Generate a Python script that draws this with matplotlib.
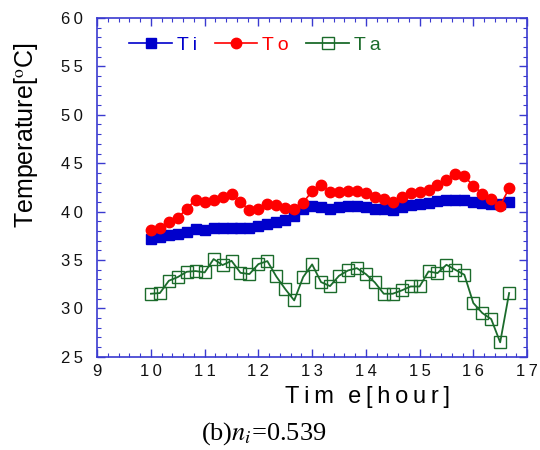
import numpy as np
import matplotlib
matplotlib.use('Agg')
import matplotlib.pyplot as plt
from matplotlib.ticker import MultipleLocator, FuncFormatter

plt.rcParams['font.family'] = ['Liberation Sans', 'DejaVu Sans']
plt.rcParams['mathtext.fontset'] = 'stix'

# sampling every 10 min, 10:00 - 16:40
time = [10 + k / 6 for k in range(41)]

t_i = [37.19, 37.37, 37.57, 37.71, 37.92, 38.19, 38.12, 38.26, 38.26, 38.33,
       38.26, 38.26, 38.53, 38.74, 38.95, 39.15, 39.50, 40.26, 40.60, 40.46,
       40.32, 40.50, 40.53, 40.57, 40.46, 40.32, 40.22, 40.19, 40.46, 40.64,
       40.77, 40.91, 41.05, 41.22, 41.25, 41.22, 40.98, 40.84, 40.81, 40.74,
       41.04]
t_o = [38.12, 38.26, 38.88, 39.33, 40.32, 41.22, 41.04, 41.22, 41.56, 41.77,
       40.96, 40.19, 40.29, 40.77, 40.70, 40.36, 40.29, 40.94, 42.11, 42.80,
       42.04, 42.02, 42.11, 42.18, 41.97, 41.56, 41.29, 41.01, 41.49, 41.97,
       42.04, 42.25, 42.70, 43.28, 43.87, 43.63, 42.69, 41.87, 41.29, 40.60,
       42.42]
t_a = [31.52, 31.59, 32.86, 33.24, 33.79, 33.86, 33.72, 35.10, 34.48, 34.92,
       33.68, 33.55, 34.58, 34.89, 33.30, 32.00, 30.83, 33.24, 34.55, 32.72,
       32.31, 33.37, 33.92, 34.16, 33.55, 32.69, 31.52, 31.52, 31.86, 32.27,
       32.27, 33.82, 33.65, 34.51, 33.99, 33.48, 30.56, 29.53, 28.90, 26.50,
       31.59]

c_i, c_o, c_a = '#0000cc', '#ff0000', '#1b6b2b'
axcol = '#3a3ad0'
sp = '\u2009'

fig = plt.figure(figsize=(5.4, 4.5), dpi=100)
ax = fig.add_axes([0.18, 0.207, 0.796, 0.753])

ax.plot(time, t_i, c=c_i, lw=1.2, marker='s', ms=6.5, mec=c_i, mfc=c_i, label='T' + sp + 'i')
ax.plot(time, t_o, c=c_o, lw=1.2, marker='o', ms=7.5, mec=c_o, mfc=c_o, label='T' + sp + 'o')
ax.plot(time, t_a, c=c_a, lw=1.3, marker='s', ms=8, mec=c_a, mfc='none', mew=1.0,
        label='T' + sp + 'a')

ax.set_xlim(9, 17)
ax.set_ylim(25, 60)
ax.xaxis.set_major_locator(MultipleLocator(1))
ax.xaxis.set_minor_locator(MultipleLocator(0.2))
ax.yaxis.set_major_locator(MultipleLocator(5))
ax.yaxis.set_minor_locator(MultipleLocator(1))
spaced = FuncFormatter(lambda v, p: sp.join('%d' % v))
ax.xaxis.set_major_formatter(spaced)
ax.yaxis.set_major_formatter(spaced)
ax.tick_params(which='both', direction='in', top=True, right=True, color=axcol,
               labelsize=12, labelcolor='#111111')
ax.tick_params(which='major', length=6, width=1.0)
ax.tick_params(axis='x', which='major', pad=5)
ax.tick_params(axis='y', which='major', pad=10)
ax.tick_params(which='minor', length=3, width=0.8)
for s in ax.spines.values():
    s.set_color(axcol)
    s.set_linewidth(1.2)

ax.set_xlabel(sp.join('Tim') + sp * 3 + sp.join('e[hour]'), fontsize=17)
ax.xaxis.set_label_coords(0.628, -0.085)
ax.set_ylabel(r'Temperature[$^{\rm o}$C]', fontsize=18)
ax.yaxis.set_label_coords(-0.133, 0.655)

leg = ax.legend(loc='center left', bbox_to_anchor=(0.075, 0.92), ncol=3, frameon=False,
                fontsize=14, handlelength=2.2, handletextpad=0.25, columnspacing=0.9,
                borderpad=0, borderaxespad=0)
for txt, col in zip(leg.get_texts(), [c_i, c_o, c_a]):
    txt.set_color(col)

fig.text(0.488, 0.037, r'(b)$n_i$=0.539', ha='center', va='center', fontsize=19,
         family='Liberation Serif')

fig.savefig('out.png', dpi=100)
